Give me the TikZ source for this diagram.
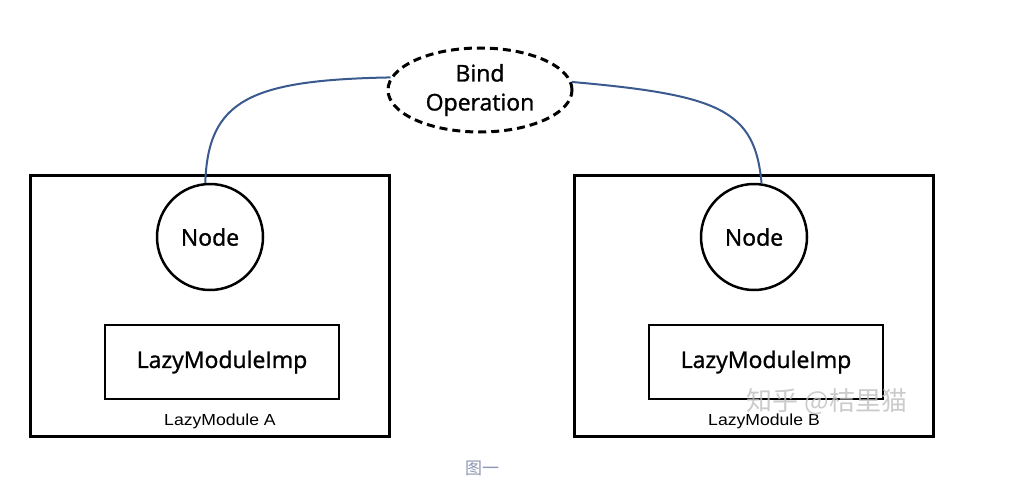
\documentclass[tikz,border=0pt]{standalone}
\usepackage{fontspec}
\setmainfont{Open Sans}
\newfontfamily\diagfont[FakeBold=1.2]{Open Sans}
\newfontfamily\labelfont[FakeStretch=1.1]{Liberation Sans}
\newfontfamily\cjk{Noto Sans CJK SC}
\usetikzlibrary{shapes.geometric}
\definecolor{linkblue}{RGB}{58,90,143}
\definecolor{capgray}{RGB}{140,152,178}
\tikzset{
  module/.style={draw, line width=3pt},
  nodecircle/.style={draw, circle, line width=2.5pt, minimum size=106pt, inner sep=0pt, font=\diagfont\fontsize{23}{26}\selectfont},
  impbox/.style={draw, line width=2pt, minimum width=234pt, minimum height=74pt, inner sep=0pt, font=\diagfont\fontsize{23}{26}\selectfont},
  modlabel/.style={font=\labelfont\fontsize{16}{18}\selectfont},
  bindop/.style={draw, ellipse, dashed, dash pattern=on 8pt off 5pt, line width=3pt, minimum width=184pt, minimum height=84pt, inner sep=0pt, align=center, font=\diagfont\fontsize{23}{29}\selectfont},
  link/.style={draw=linkblue, line width=2pt},
}
\begin{document}
\begin{tikzpicture}[x=1pt,y=-1pt]
\useasboundingbox[fill=white] (0,0) rectangle (1024,495);
% modules
\node[module, minimum width=359pt, minimum height=261pt, inner sep=0pt] (modA) at (209.5,305.5) {};
\node[module, minimum width=359pt, minimum height=261pt, inner sep=0pt] (modB) at (753.5,305.5) {};
\node[nodecircle] (nodeA) at (210,237) {Node};
\node[nodecircle] (nodeB) at (754,237) {Node};
\node[impbox] (impA) at (222,362) {\raisebox{-3pt}{LazyModuleImp}};
\node[impbox] (impB) at (766,362) {\raisebox{-3pt}{LazyModuleImp}};
\node[modlabel] (labA) at (220,421) {LazyModule A};
\node[modlabel] (labB) at (764,421) {LazyModule B};
% bind operation
\node[bindop] (bind) at (480,90) {Bind\\Operation};
\draw[link] (bind.172) .. controls (250,80) and (208,100) .. (nodeA.95);
\draw[link] (bind.5) .. controls (720,95) and (755,110) .. (nodeB.82);
% watermark and caption
\node[text=black!25, opacity=0.8, inner sep=0pt, font=\cjk\fontsize{26}{28}\selectfont] (wm) at (827,402) {知乎 @桔里猫};
\node[text=capgray, font=\cjk\fontsize{17}{20}\selectfont] (cap) at (482,468) {图一};
\end{tikzpicture}
\end{document}
